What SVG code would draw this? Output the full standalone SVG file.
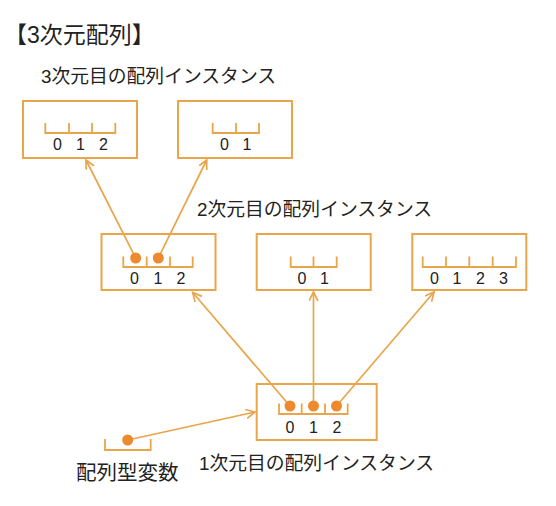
<svg xmlns="http://www.w3.org/2000/svg" width="556" height="506" viewBox="0 0 556 506">
<defs>
<style>
.box{fill:#fff;stroke:#E8A54A;stroke-width:2}
.ruler{fill:none;stroke:#E8A54A;stroke-width:1.8}
.dot{fill:#EE8A2E}
.digit{font-family:"Liberation Sans","Noto Sans CJK JP",sans-serif;font-size:16px;fill:#222;text-anchor:middle}
.label{font-family:"Liberation Sans","Noto Sans CJK JP",sans-serif;font-size:18.8px;fill:#222}
.title{font-family:"Liberation Sans","Noto Sans CJK JP",sans-serif;font-size:23px;fill:#222}
.conn{stroke:#E8A54A;stroke-width:1.7;fill:none;marker-end:url(#arr)}
</style>
<marker id="arr" markerWidth="12" markerHeight="12" refX="9" refY="4.5" orient="auto" markerUnits="userSpaceOnUse">
<path d="M0,0 L9,4.5 L0,9" fill="none" stroke="#E8A54A" stroke-width="1.7"/>
</marker>
</defs>
<rect width="556" height="506" fill="#fff"/>
<text class="title" x="4" y="43">【3次元配列】</text>
<text class="label" x="41" y="83">3次元目の配列インスタンス</text>
<text class="label" x="197" y="216">2次元目の配列インスタンス</text>
<text class="label" x="199" y="470">1次元目の配列インスタンス</text>
<text class="label" x="76" y="480" style="font-size:20.5px">配列型変数</text>

<g id="box3a">
<rect class="box" x="23" y="101" width="114" height="57"/>
<path class="ruler" d="M45.3,123 V133 H115.3 V123 M69,123 V133 M92,123 V133"/>
<text class="digit" x="57.5" y="150">0</text>
<text class="digit" x="80.5" y="150">1</text>
<text class="digit" x="103.5" y="150">2</text>
</g>
<g id="box3b">
<rect class="box" x="178" y="101" width="114" height="57"/>
<path class="ruler" d="M212.7,123 V133 H259 V123 M236,123 V133"/>
<text class="digit" x="224.5" y="150">0</text>
<text class="digit" x="247" y="150">1</text>
</g>
<g id="box2a">
<rect class="box" x="101.5" y="234" width="114" height="56"/>
<path class="ruler" d="M123.3,256.5 V267 H192.7 V256.5 M146.7,256.5 V267 M170,256.5 V267"/>
<text class="digit" x="134.5" y="284">0</text>
<text class="digit" x="158" y="284">1</text>
<text class="digit" x="181" y="284">2</text>
</g>
<g id="box2b">
<rect class="box" x="256.7" y="234" width="114" height="56"/>
<path class="ruler" d="M290.7,256.5 V267 H336.7 V256.5 M313.5,256.5 V267"/>
<text class="digit" x="302" y="284">0</text>
<text class="digit" x="324.5" y="284">1</text>
</g>
<g id="box2c">
<rect class="box" x="412.3" y="234" width="114" height="56"/>
<path class="ruler" d="M422.7,256.5 V267 H516 V256.5 M446,256.5 V267 M469.3,256.5 V267 M492.7,256.5 V267"/>
<text class="digit" x="434.5" y="284">0</text>
<text class="digit" x="457" y="284">1</text>
<text class="digit" x="480.5" y="284">2</text>
<text class="digit" x="503.5" y="284">3</text>
</g>
<g id="box1">
<rect class="box" x="256.7" y="384" width="120" height="56"/>
<path class="ruler" d="M279,403.5 V414 H347.7 V403.5 M301.7,403.5 V414 M325,403.5 V414"/>
<text class="digit" x="290" y="433">0</text>
<text class="digit" x="313.5" y="433">1</text>
<text class="digit" x="337" y="433">2</text>
</g>
<g id="var">
<path class="ruler" d="M105,439 V450 H150.7 V439"/>
</g>

<g id="connectors">
<line class="conn" x1="135.7" y1="258" x2="86" y2="160"/>
<line class="conn" x1="158.3" y1="258" x2="206.7" y2="160"/>
<line class="conn" x1="290" y1="406" x2="192.7" y2="292.5"/>
<line class="conn" x1="313.5" y1="406" x2="313.5" y2="292"/>
<line class="conn" x1="336.5" y1="406" x2="434" y2="292"/>
<line class="conn" x1="127.7" y1="440" x2="255" y2="412"/>
</g>

<g id="dots">
<circle class="dot" cx="135.7" cy="258" r="5.5"/>
<circle class="dot" cx="158.3" cy="258" r="5.5"/>
<circle class="dot" cx="290" cy="406" r="5.5"/>
<circle class="dot" cx="313.5" cy="406" r="5.5"/>
<circle class="dot" cx="336.5" cy="406" r="5.5"/>
<circle class="dot" cx="127.7" cy="440" r="5.5"/>
</g>
</svg>
